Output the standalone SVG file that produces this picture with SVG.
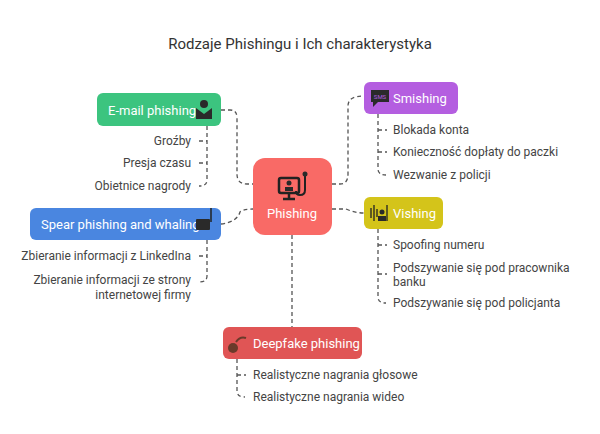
<svg xmlns="http://www.w3.org/2000/svg" width="600" height="434" viewBox="0 0 600 434">
<style>
text{font-family:Roboto,"Liberation Sans",sans-serif}
.t{font-size:15px;fill:#333}
.b{font-size:13px;fill:#fff}
.i{font-size:12px;fill:#444}
.c{fill:none;stroke:#555;stroke-width:1.3;stroke-dasharray:4 3}
.ic{fill:#2a2a2a}
</style>
<rect width="600" height="434" fill="#fff"/>
<text class="t" x="300" y="49" text-anchor="middle">Rodzaje Phishingu i Ich charakterystyka</text>
<g id="connectors">
<path class="c" d="M221 110 H230 Q237 110 237 118 V174 Q237 184 247 184 H253"/>
<path class="c" d="M221 224 Q237 222 240 212 Q243 209 253 209"/>
<path class="c" d="M332 184 H340 Q348 184 348 174 V106 Q348 96 364 96"/>
<path class="c" d="M332 209 H346 Q355 213 364 213"/>
<path class="c" d="M292 235 V327"/>
<path class="c" d="M207 126 V180 Q207 186 199 186"/>
<path class="c" d="M199 141 H207 M199 163 H207"/>
<path class="c" d="M207 240 V276 Q207 282 199 282"/>
<path class="c" d="M199 256 H207"/>
<path class="c" d="M378 114 V169 Q378 175 386 175"/>
<path class="c" d="M378 130 H387 M378 152 H387"/>
<path class="c" d="M378 229 V297 Q378 303 386 303"/>
<path class="c" d="M378 245 H387 M378 274 H387"/>
<path class="c" d="M237 359 V391 Q237 397 245 397"/>
<path class="c" d="M237 375 H246"/>
</g>
<g id="phishing">
<rect x="253" y="158" width="79" height="77" rx="12" fill="#f96a66"/>
<rect x="279" y="178" width="20" height="15" rx="2" fill="none" stroke="#222" stroke-width="2.5"/>
<circle cx="289" cy="183" r="2.5" class="ic"/><rect x="285" y="187" width="8" height="4" class="ic"/>
<path d="M289 193 V198 M283 199 H295" stroke="#222" stroke-width="2.5"/>
<path d="M305 172 V190 Q305 195 300 195 Q296 195 296 191" fill="none" stroke="#222" stroke-width="2"/>
<circle cx="305" cy="174" r="2.5" class="ic"/>
<text class="b" x="292" y="218" text-anchor="middle">Phishing</text>
</g>
<g id="email">
<rect x="97" y="93" width="124" height="33" rx="6" fill="#3cc47f"/>
<text class="b" x="108" y="115">E-mail phishing</text>
<path d="M196 108 L204 114 L212 108 V119 H196 Z" class="ic"/><circle cx="204" cy="104" r="4" class="ic"/>
<text class="i" x="191" y="145" text-anchor="end">Groźby</text>
<text class="i" x="191" y="167" text-anchor="end">Presja czasu</text>
<text class="i" x="191" y="190" text-anchor="end">Obietnice nagrody</text>
</g>
<g id="spear">
<rect x="30" y="208" width="191" height="32" rx="6" fill="#4a86e0"/>
<text class="b" x="41" y="229">Spear phishing and whaling</text>
<rect x="196" y="219" width="14" height="11" rx="1" class="ic"/><path d="M211 208 V222" stroke="#222" stroke-width="1.5"/>
<text class="i" x="191" y="260" text-anchor="end">Zbieranie informacji z LinkedIna</text>
<text class="i" x="191" y="284" text-anchor="end">Zbieranie informacji ze strony</text>
<text class="i" x="191" y="299" text-anchor="end">internetowej firmy</text>
</g>
<g id="smishing">
<rect x="364" y="82" width="94" height="32" rx="6" fill="#b45ee0"/>
<rect x="371" y="90" width="18" height="12" class="ic"/><path d="M373 102 V107 L378 102" class="ic"/>
<text x="380" y="99" font-size="6" fill="#b45ee0" text-anchor="middle">SMS</text>
<text class="b" x="393" y="103">Smishing</text>
<text class="i" x="393" y="134">Blokada konta</text>
<text class="i" x="393" y="156">Konieczność dopłaty do paczki</text>
<text class="i" x="393" y="179">Wezwanie z policji</text>
</g>
<g id="vishing">
<rect x="364" y="197" width="79" height="32" rx="6" fill="#d4c41a"/>
<path d="M371 208 V218 M374 205 V221 M377 209 V217 M387 205 V221" stroke="#222" stroke-width="1.3"/>
<circle cx="382" cy="212" r="2.5" class="ic"/><rect x="378" y="216" width="8" height="5" class="ic"/>
<text class="b" x="393" y="218">Vishing</text>
<text class="i" x="393" y="249">Spoofing numeru</text>
<text class="i" x="393" y="272">Podszywanie się pod pracownika</text>
<text class="i" x="393" y="286">banku</text>
<text class="i" x="393" y="307">Podszywanie się pod policjanta</text>
</g>
<g id="deepfake">
<rect x="223" y="327" width="139" height="32" rx="6" fill="#e05555"/>
<circle cx="233" cy="348" r="5" fill="#6b3a2a"/><path d="M236 342 Q240 336 246 338" fill="none" stroke="#6b3a2a" stroke-width="2"/>
<text class="b" x="253" y="348">Deepfake phishing</text>
<text class="i" x="253" y="379">Realistyczne nagrania głosowe</text>
<text class="i" x="253" y="401">Realistyczne nagrania wideo</text>
</g>
</svg>
